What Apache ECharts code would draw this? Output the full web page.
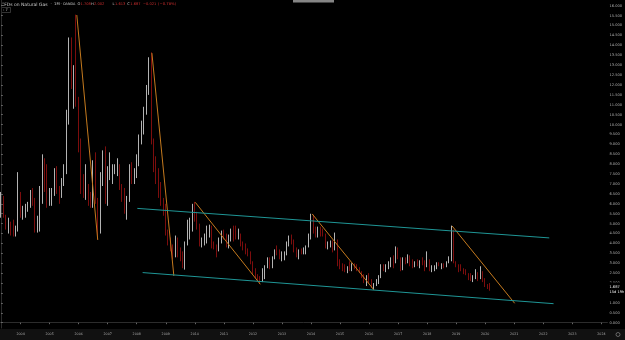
<!DOCTYPE html>
<html><head><meta charset="utf-8">
<script src="https://cdn.jsdelivr.net/npm/echarts@6/dist/echarts.min.js"></script>
<style>html,body{margin:0;padding:0;background:#000;}#c{width:625px;height:340px;}</style>
</head><body><div id="c"></div>
<script>
// Monthly candles, first candle = 2003-05
const firstYear = 2003, firstMonth = 5, slotCount = 251;
const yTicks = [0,0.5,1,1.5,2,2.5,3,3.5,4,4.5,5,5.5,6,6.5,7,7.5,8,8.5,9,9.5,10,10.5,11,11.5,12,12.5,13,13.5,14,14.5,15,15.5,16];
const opens = [5.45,6.3,5.35,4.8,4.95,4.6,4.55,4.7,6.1,5.45,5.6,5.85,5.9,6.35,6.1,5.05,5.1,6.1,8.0,6.9,6.1,6.3,6.6,7.6,6.6,6.4,7.0,7.9,10.25,13.4,12.2,12.3,11.0,9.1,7.1,6.4,6.55,6.0,5.9,8.1,6.1,5.4,7.1,8.4,6.3,7.4,7.45,7.65,7.7,7.85,6.8,6.2,5.5,6.2,7.7,7.25,7.45,8.35,9.4,9.9,10.75,11.8,13.3,9.1,7.9,7.3,6.6,6.0,5.5,4.5,4.05,3.8,3.45,3.85,3.5,3.2,2.95,4.0,4.55,4.85,5.7,5.15,4.8,3.9,3.95,4.3,4.55,4.8,3.9,3.85,3.7,4.1,4.45,4.4,4.0,4.35,4.65,4.6,4.35,4.45,4.05,3.85,3.6,3.55,3.05,2.55,2.3,2.3,2.1,2.45,2.8,3.2,2.85,3.3,3.6,3.55,3.3,3.4,3.5,4.0,4.3,4.0,3.6,3.45,3.6,3.55,3.6,3.9,4.4,4.95,4.6,4.45,4.8,4.55,4.45,3.85,4.0,4.1,3.8,4.1,2.95,2.75,2.7,2.6,2.8,2.65,2.85,2.75,2.7,2.55,2.4,2.0,2.35,2.05,1.8,1.95,2.15,2.3,2.9,2.75,2.85,2.9,3.25,3.05,3.7,3.25,2.8,3.25,3.1,3.35,3.05,2.95,3.05,2.95,3.1,3.05,2.9,3.15,2.65,2.75,2.8,2.95,2.8,2.95,2.92,3.05,3.25,4.6,3.05,2.85,2.8,2.7,2.6,2.45,2.35,2.25,2.3,2.5,2.3,2.55,2.15,1.85,1.708];
const highs = [6.6,6.4,5.45,5.3,5.1,5.2,4.9,7.6,6.6,5.9,6.0,6.1,6.7,6.8,6.3,5.4,6.9,8.5,8.3,8.0,6.8,6.8,7.8,7.9,6.9,7.3,8.0,10.75,14.4,14.4,13.0,15.55,11.4,9.3,7.5,8.0,7.0,6.6,8.2,8.6,6.3,7.6,8.7,8.9,7.9,8.6,8.0,8.0,8.3,8.0,7.0,6.8,6.4,8.0,8.1,7.8,8.5,9.5,10.2,10.9,12.0,13.4,13.65,9.3,8.4,7.8,7.1,6.3,6.0,4.7,4.3,3.95,4.4,4.3,3.8,3.6,4.1,5.2,5.3,6.0,6.1,5.6,5.0,4.3,4.5,4.9,4.95,4.9,4.1,3.95,4.3,4.65,4.7,4.5,4.45,4.75,4.9,4.9,4.75,4.5,4.1,4.0,3.75,3.6,3.1,2.75,2.45,2.35,2.75,2.9,3.3,3.3,3.35,3.7,3.9,3.7,3.6,3.6,4.1,4.4,4.45,4.2,3.8,3.7,3.75,3.8,3.9,4.5,5.5,5.45,4.85,4.85,4.85,4.75,4.5,4.1,4.15,4.15,4.55,4.2,3.2,3.0,2.95,2.85,3.1,3.0,3.0,2.95,2.8,2.6,2.45,2.4,2.5,2.2,2.0,2.2,2.4,2.95,2.95,2.95,3.1,3.3,3.4,3.85,3.8,3.3,3.3,3.3,3.45,3.4,3.2,3.1,3.2,3.15,3.3,3.15,3.6,3.2,2.9,2.9,3.05,3.05,3.0,3.0,3.1,3.35,4.9,4.7,3.1,2.95,2.95,2.75,2.7,2.5,2.5,2.4,2.7,2.55,2.85,2.6,2.25,1.95,2.002];
const lows = [5.3,5.3,4.7,4.5,4.4,4.35,4.35,4.6,5.3,5.2,5.3,5.6,5.8,5.9,4.55,4.55,4.6,6.0,6.6,5.8,5.9,5.9,6.4,6.5,6.0,6.3,6.9,7.5,10.0,11.8,10.8,10.9,8.6,6.5,6.3,6.2,5.9,5.8,5.8,6.0,4.2,4.5,6.9,6.0,5.9,7.2,7.0,7.5,7.4,6.7,6.1,5.5,5.2,6.1,7.0,7.0,7.3,7.9,9.0,9.5,10.5,11.5,9.0,7.6,7.0,6.3,5.9,5.4,4.4,3.9,3.6,3.2,3.3,3.3,3.1,2.75,2.68,3.9,4.2,4.6,5.1,4.7,3.85,3.8,3.9,4.0,4.3,3.75,3.7,3.3,3.6,4.0,4.2,3.8,3.75,4.1,4.1,4.2,4.2,3.85,3.65,3.45,3.35,2.95,2.45,2.25,2.1,1.95,2.05,2.2,2.75,2.7,2.75,3.2,3.4,3.2,3.1,3.15,3.4,3.85,3.95,3.55,3.3,3.2,3.45,3.45,3.45,3.8,4.2,4.5,4.3,4.3,4.35,4.35,3.75,3.7,3.8,3.55,3.65,2.85,2.7,2.6,2.55,2.5,2.6,2.6,2.7,2.6,2.5,2.25,2.0,1.85,2.0,1.75,1.67,1.85,1.95,2.25,2.6,2.55,2.7,2.8,2.75,3.0,3.2,2.6,2.65,2.95,3.0,2.85,2.75,2.8,2.85,2.75,2.9,2.6,2.8,2.6,2.55,2.6,2.7,2.85,2.7,2.75,2.8,3.0,3.1,3.0,2.8,2.55,2.6,2.45,2.4,2.15,2.1,2.05,2.2,2.1,2.2,2.05,1.8,1.7,1.613];
const closes = [6.3,5.35,4.8,4.95,4.6,4.55,4.7,6.1,5.45,5.6,5.85,5.9,6.35,6.1,5.05,5.1,6.1,8.0,6.9,6.1,6.3,6.6,7.6,6.6,6.4,7.0,7.9,10.25,13.4,12.2,12.3,11.0,9.1,6.6,6.4,6.55,6.0,5.9,8.1,6.1,5.4,7.1,8.4,6.1,7.7,7.9,7.65,7.8,7.85,6.8,6.2,5.6,6.2,7.7,7.25,7.45,8.35,9.4,9.9,10.75,11.8,13.3,9.1,7.9,7.3,6.6,6.0,5.5,4.5,4.05,3.8,3.45,3.85,3.5,3.2,2.95,4.0,4.85,5.2,5.7,5.15,4.8,3.9,3.95,4.3,4.6,4.8,3.85,3.85,3.7,4.1,4.45,4.4,4.0,4.35,4.65,4.6,4.35,4.45,4.05,3.7,3.6,3.55,3.05,2.55,2.3,2.15,2.1,2.45,2.8,3.2,2.85,3.3,3.6,3.55,3.3,3.4,3.5,4.0,4.3,4.0,3.6,3.45,3.6,3.55,3.6,3.85,4.4,4.95,4.6,4.45,4.8,4.55,4.45,3.85,4.0,4.1,3.8,4.1,2.95,2.75,2.7,2.65,2.8,2.65,2.85,2.75,2.7,2.55,2.3,2.2,2.3,2.05,1.8,1.95,2.15,2.3,2.9,2.75,2.85,2.9,3.25,3.05,3.7,3.25,2.8,3.2,3.05,3.35,3.05,2.95,3.05,3.0,3.1,3.05,2.9,3.15,2.65,2.75,2.8,2.95,2.9,2.95,2.92,3.05,3.25,4.6,3.05,2.85,2.8,2.7,2.6,2.45,2.35,2.25,2.3,2.5,2.4,2.6,2.15,1.85,1.708,1.687];
// trend lines: [monthIndex, price] endpoints
const orangeLines = [
  [[31.24,15.53],[39.89,4.18]],
  [[62.27,13.61],[71.34,2.36]],
  [[80.16,6.08],[107.07,1.94]],
  [[128.5,5.49],[154.06,1.65]],
  [[186.33,4.88],[212.17,0.98]]
];
const channelLines = [
  [[56.25,5.77],[226.47,4.28]],
  [[58.44,2.53],[228.24,0.96]]
];
const lastPrice = 1.687, countdown = '15d 19h';
const header = [
  {t:'CFDs on Natural Gas', x:1, c:'#c8c8c8', s:4.5}, {t:'·', x:50.5, c:'#c8c8c8', s:3.8}, {t:'1M', x:54, c:'#c8c8c8', s:3.8},
  {t:'·', x:60.5, c:'#c8c8c8', s:3.8}, {t:'OANDA', x:63, c:'#c8c8c8', s:3.4},
  {t:'O', x:77.5, c:'#c8c8c8', s:3.6}, {t:'1.708', x:80.5, c:'#cc2e2e', s:3.6},
  {t:'H', x:91, c:'#c8c8c8', s:3.6}, {t:'2.002', x:94, c:'#cc2e2e', s:3.6},
  {t:'L', x:112.5, c:'#c8c8c8', s:3.6}, {t:'1.613', x:115, c:'#cc2e2e', s:3.6},
  {t:'C', x:127.3, c:'#c8c8c8', s:3.6}, {t:'1.687', x:130.2, c:'#cc2e2e', s:3.6},
  {t:'−0.021', x:143, c:'#cc2e2e', s:3.6}, {t:'(−0.78%)', x:158, c:'#cc2e2e', s:3.8}
];

const months = [];
for (let k = 0; k < slotCount; k++) {
  const m = firstMonth - 1 + k;
  const y = firstYear + Math.floor(m / 12), mm = (m % 12) + 1;
  months.push(y + '-' + (mm < 10 ? '0' + mm : mm));
}
const candles = opens.map((o, i) => [o, closes[i], lows[i], highs[i]]);
const isJan = (idx, val) => String(val).endsWith('-01');

const series = [{
  type: 'candlestick', xAxisIndex: 0, yAxisIndex: 0, data: candles, barWidth: 1.3,
  itemStyle: {color: '#dedede', color0: '#7c0d0d', borderColor: '#b3b3b3', borderColor0: '#7c0d0d', borderWidth: 1},
  markLine: {silent: true, symbol: 'none', lineStyle: {color: 'rgba(0,0,0,0)', width: 0.1},
    label: {show: true, position: 'end', distance: 1, color: '#f2f2f2', fontSize: 3.6, lineHeight: 5,
      padding: [3.5, 1, 0, 1], backgroundColor: '#000',
      fontFamily: 'DejaVu Sans', formatter: () => lastPrice.toFixed(3) + '\n' + countdown},
    data: [{yAxis: lastPrice}]},
  z: 2
}];
orangeLines.forEach(l => series.push({type: 'line', xAxisIndex: 1, yAxisIndex: 0, data: l, symbol: 'none',
  lineStyle: {color: '#c57a1e', width: 1}, z: 3, silent: true}));
channelLines.forEach(l => series.push({type: 'line', xAxisIndex: 1, yAxisIndex: 0, data: l, symbol: 'none',
  lineStyle: {color: '#1f9696', width: 1}, z: 3, silent: true}));

const graphic = [
  {type: 'rect', shape: {x: 0, y: 329, width: 625, height: 11}, style: {fill: '#111111'}, z: -100, silent: true},
  {type: 'rect', shape: {x: 293, y: 0, width: 41, height: 2.5}, style: {fill: '#858585'}, silent: true},
  {type: 'rect', shape: {x: 1.5, y: 7.5, width: 9, height: 5}, style: {fill: '#000', stroke: '#555', lineWidth: 0.6}, silent: true},
  {type: 'text', x: 3, y: 8, style: {text: '› 7', fill: '#c8c8c8', fontSize: 3.6, fontFamily: 'DejaVu Sans'}, silent: true},
  {type: 'circle', shape: {cx: 618, cy: 334.5, r: 2}, style: {fill: 'none', stroke: '#9a9a9a', lineWidth: 0.6}, silent: true}
];
header.forEach(h => graphic.push({type: 'text', x: h.x, y: 2.4, style: {text: h.t, fill: h.c, fontSize: h.s, fontFamily: 'DejaVu Sans'}, silent: true}));

const chart = echarts.init(document.getElementById('c'), null, {renderer: 'canvas'});
chart.setOption({
  backgroundColor: '#000000',
  animation: false,
  grid: {left: 0, right: 16, top: 0, bottom: 12, containLabel: false},
  xAxis: [{
    type: 'category', data: months, boundaryGap: true,
    axisLine: {show: true, lineStyle: {color: '#2c2c2c', width: 1}},
    axisTick: {show: true, interval: isJan, alignWithLabel: true, length: 1.5, lineStyle: {color: '#666'}},
    axisLabel: {interval: isJan, formatter: v => v.slice(0, 4), fontSize: 3.3, color: '#a8a8a8', margin: 4.5, fontFamily: 'DejaVu Sans'},
    splitLine: {show: false}
  }, {
    type: 'value', min: -0.5, max: slotCount - 0.5, show: false
  }],
  yAxis: [{
    type: 'value', position: 'right', min: -0.2675, max: 16.29, scale: false,
    axisLine: {show: true, lineStyle: {color: '#2c2c2c', width: 1}},
    axisTick: {show: true, customValues: yTicks, length: 1.5, lineStyle: {color: '#777'}},
    axisLabel: {customValues: yTicks, formatter: v => Number(v).toFixed(3), fontSize: 3.6, color: '#b0b0b0', margin: 2, fontFamily: 'DejaVu Sans'},
    splitLine: {show: false}
  }],
  graphic: graphic,
  series: series
});
</script></body></html>
